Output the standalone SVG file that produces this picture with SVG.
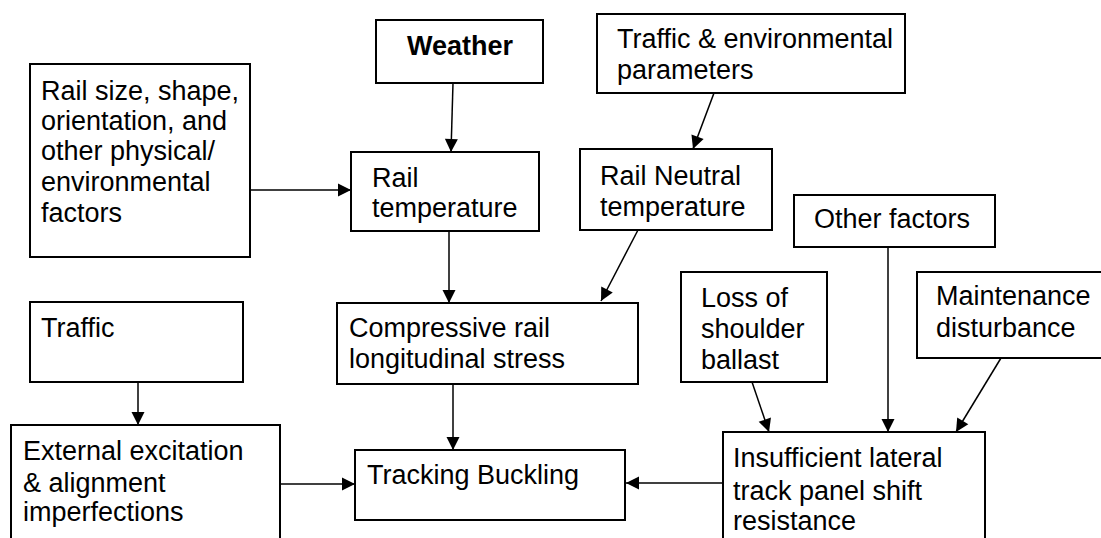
<svg xmlns="http://www.w3.org/2000/svg" width="1101" height="538" viewBox="0 0 1101 538">
<style>
.box{fill:#fff;stroke:#000;stroke-width:2}
.t{font-family:"Liberation Sans",Arial,sans-serif;font-size:27px;fill:#000}
.b{font-weight:bold}
.c{fill:none;stroke:#000;stroke-width:1.5}
</style>
<defs>
<marker id="ah" markerUnits="userSpaceOnUse" markerWidth="13" markerHeight="13" refX="13" refY="6.5" orient="auto" overflow="visible">
<path d="M0,0 L13,6.5 L0,13 z" fill="#000"/>
</marker>
</defs>
<rect width="1101" height="538" fill="#fff"/>
<g id="connectors">
<line class="c" x1="453" y1="83" x2="451" y2="152" marker-end="url(#ah)"/>
<line class="c" x1="250" y1="190" x2="351" y2="190" marker-end="url(#ah)"/>
<line class="c" x1="714" y1="93" x2="693" y2="149" marker-end="url(#ah)"/>
<line class="c" x1="449" y1="231" x2="449" y2="303" marker-end="url(#ah)"/>
<line class="c" x1="638" y1="230" x2="601" y2="301" marker-end="url(#ah)"/>
<line class="c" x1="138" y1="382" x2="138" y2="425" marker-end="url(#ah)"/>
<line class="c" x1="453" y1="384" x2="453" y2="450" marker-end="url(#ah)"/>
<line class="c" x1="280" y1="484" x2="355" y2="484" marker-end="url(#ah)"/>
<line class="c" x1="723" y1="483" x2="626" y2="483" marker-end="url(#ah)"/>
<line class="c" x1="752" y1="382" x2="769" y2="432" marker-end="url(#ah)"/>
<line class="c" x1="888" y1="247" x2="888" y2="432" marker-end="url(#ah)"/>
<line class="c" x1="1001" y1="358" x2="956" y2="432" marker-end="url(#ah)"/>
</g>
<g id="rail-size">
<rect class="box" x="30" y="64" width="220" height="193"/>
<text class="t" x="41" y="100">Rail size, shape,</text>
<text class="t" x="41" y="130">orientation, and</text>
<text class="t" x="41" y="160">other physical/</text>
<text class="t" x="41" y="191">environmental</text>
<text class="t" x="41" y="222">factors</text>
</g>
<g id="weather">
<rect class="box" x="376" y="20" width="167" height="63"/>
<text class="t b" x="460" y="55" text-anchor="middle">Weather</text>
</g>
<g id="rail-temperature">
<rect class="box" x="351" y="152" width="188" height="79"/>
<text class="t" x="372" y="187">Rail</text>
<text class="t" x="372" y="217">temperature</text>
</g>
<g id="traffic-env">
<rect class="box" x="597" y="14" width="308" height="79"/>
<text class="t" x="617" y="48">Traffic &amp; environmental</text>
<text class="t" x="617" y="79">parameters</text>
</g>
<g id="rail-neutral">
<rect class="box" x="580" y="149" width="192" height="81"/>
<text class="t" x="600" y="185">Rail Neutral</text>
<text class="t" x="600" y="216">temperature</text>
</g>
<g id="other-factors">
<rect class="box" x="794" y="195" width="201" height="52"/>
<text class="t" x="814" y="228">Other factors</text>
</g>
<g id="traffic">
<rect class="box" x="30" y="302" width="213" height="80"/>
<text class="t" x="41" y="337">Traffic</text>
</g>
<g id="compressive">
<rect class="box" x="337" y="303" width="301" height="81"/>
<text class="t" x="349" y="337">Compressive rail</text>
<text class="t" x="349" y="368">longitudinal stress</text>
</g>
<g id="loss-ballast">
<rect class="box" x="681" y="272" width="146" height="110"/>
<text class="t" x="701" y="307">Loss of</text>
<text class="t" x="701" y="338">shoulder</text>
<text class="t" x="701" y="369">ballast</text>
</g>
<g id="maintenance">
<rect class="box" x="917" y="272" width="190" height="86"/>
<text class="t" x="936" y="305">Maintenance</text>
<text class="t" x="936" y="337">disturbance</text>
</g>
<g id="external">
<rect class="box" x="11" y="425" width="269" height="130"/>
<text class="t" x="23" y="460">External excitation</text>
<text class="t" x="23" y="492">&amp; alignment</text>
<text class="t" x="23" y="521">imperfections</text>
</g>
<g id="tracking-buckling">
<rect class="box" x="355" y="450" width="270" height="70"/>
<text class="t" x="367" y="484">Tracking Buckling</text>
</g>
<g id="insufficient">
<rect class="box" x="723" y="432" width="262" height="130"/>
<text class="t" x="733" y="467">Insufficient lateral</text>
<text class="t" x="733" y="500">track panel shift</text>
<text class="t" x="733" y="530">resistance</text>
</g>
</svg>
